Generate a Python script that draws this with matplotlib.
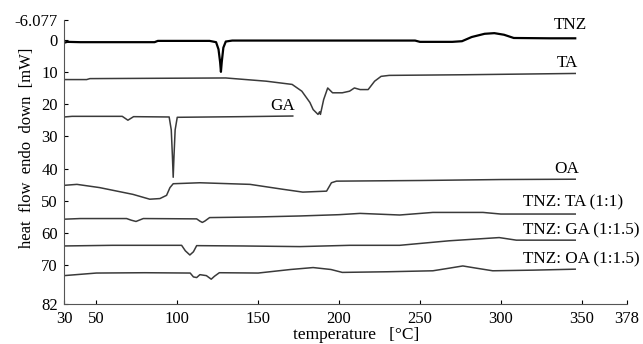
import matplotlib
matplotlib.use("Agg")
import matplotlib.pyplot as plt

# DSC curves, values
tnz_t = [30, 32, 40, 86, 88, 120, 124, 125.5, 126.5, 127, 127.5, 128.5, 130, 134, 180, 247, 250, 270, 276,
         282, 290, 296, 302, 308, 330, 346]
tnz_y = [1.0, 0.7, 0.8, 0.8, 0.4, 0.4, 0.8, 3.0, 7.0, 10.0, 7.0, 2.5, 0.6, 0.3, 0.3, 0.3, 0.7, 0.7, 0.5,
         -0.8, -1.8, -2.0, -1.5, -0.5, -0.4, -0.4]

ta_t = [30, 44, 46, 130, 155, 171, 177, 182, 184, 186, 187, 188, 188.5, 190.5, 193, 196, 202, 206.5,
        209.5, 213, 218, 222, 226, 231, 278, 346]
ta_y = [12.4, 12.4, 12.1, 11.9, 12.9, 13.9, 16.0, 19.5, 21.7, 22.7, 23.2, 22.4, 23.2, 18.6, 15.0, 16.5,
        16.5, 16.0, 15.0, 15.5, 15.5, 12.9, 11.4, 11.1, 10.9, 10.5]

ga_t = [30, 35, 66, 69.5, 73, 95, 96.3, 97, 97.5, 98, 98.7, 100, 140, 171.4]
ga_y = [24.0, 23.8, 23.8, 25.0, 23.9, 24.0, 28.0, 36.0, 42.7, 36.0, 28.0, 24.1, 23.9, 23.7]

oa_t = [30, 38, 52, 72.6, 83, 89.3, 93.4, 95.5, 97.5, 114, 145, 165, 177.6, 192.3, 195.3, 198.4, 250,
        300, 346]
oa_y = [45.2, 44.9, 45.9, 48.0, 49.5, 49.3, 48.3, 45.9, 44.7, 44.4, 44.9, 46.4, 47.3, 47.0, 44.4, 43.9,
        43.7, 43.4, 43.3]

mix_ta_t = [30, 40, 68.7, 71.5, 74.5, 77, 79, 112, 114, 115.5, 117, 120, 150, 175.8, 200, 213, 237.5,
            258, 289, 300, 346]
mix_ta_y = [55.7, 55.5, 55.5, 56.0, 56.4, 55.9, 55.5, 55.6, 56.3, 56.7, 56.3, 55.2, 55.0, 54.7, 54.3,
            53.9, 54.4, 53.6, 53.6, 54.1, 54.1]

mix_ga_t = [30, 60, 102.7, 105, 107.8, 110, 112, 140, 175.8, 206.7, 237.5, 268, 299, 309.6, 346]
mix_ga_y = [64.0, 63.8, 63.8, 65.5, 66.8, 65.8, 63.9, 64.0, 64.2, 63.8, 63.8, 62.4, 61.4, 62.2, 62.2]

mix_oa_t = [30, 40, 50, 80, 108, 110, 112, 114, 118, 121, 123, 126, 150, 170, 184, 195, 202, 230, 258,
            268, 276.5, 285, 295, 320, 346]
mix_oa_y = [73.2, 72.8, 72.4, 72.3, 72.4, 73.6, 73.8, 72.9, 73.2, 74.3, 73.4, 72.3, 72.4, 71.3, 70.7,
            71.3, 72.2, 72.0, 71.7, 70.9, 70.2, 70.9, 71.7, 71.5, 71.2]

labels = ["TNZ", "TA", "GA", "OA", "TNZ: TA (1:1)", "TNZ: GA (1:1.5)", "TNZ: OA (1:1.5)"]
label_x = [332.7, 334.3, 157.7, 333, 314, 314, 314]
label_y = [-4.6, 7.2, 20.6, 40.2, 50.6, 59.3, 68.1]

x_ticks = [30, 50, 100, 150, 200, 250, 300, 350, 378]
y_ticks = [-6.077, 0, 10, 20, 30, 40, 50, 60, 70, 82]
y_tick_labels = ["-6.077", "0", "10", "20", "30", "40", "50", "60", "70", "82"]

plt.rcParams['font.family'] = ['Liberation Serif', 'DejaVu Serif']

fig = plt.figure(figsize=(6.43, 3.44), dpi=100)
ax = fig.add_axes([64 / 643, 1 - 304 / 344, (627 - 64) / 643, (304 - 20) / 344])

ax.plot(tnz_t, tnz_y, color='black', lw=1.6)
for t, y in [(ta_t, ta_y), (ga_t, ga_y), (oa_t, oa_y), (mix_ta_t, mix_ta_y),
             (mix_ga_t, mix_ga_y), (mix_oa_t, mix_oa_y)]:
    ax.plot(t, y, color='#3a3a3a', lw=1.1)

for lab, lx, ly in zip(labels, label_x, label_y):
    ax.text(lx, ly, lab, fontsize=12.3, va='center', ha='left', clip_on=False)

ax.set_xlim(30, 378)
ax.set_ylim(82, -6.077)
ax.set_xticks(x_ticks)
ax.set_yticks(y_ticks)
ax.set_yticklabels(y_tick_labels)
ax.tick_params(direction='in', length=3, width=0.8, labelsize=12)
ax.tick_params(axis='x', pad=5)
ax.tick_params(axis='y', pad=4.5)

for side in ['top', 'right']:
    ax.spines[side].set_visible(False)
for side in ['left', 'bottom']:
    ax.spines[side].set_color('#555555')

ax.set_xlabel("temperature   [°C]", fontsize=12.5)
ax.set_ylabel("heat  flow  endo  down  [mW]", fontsize=12)
ax.xaxis.set_label_coords(0.519, -0.08)
ax.xaxis.label.set_va('top')
ax.yaxis.set_label_coords(-0.052, 0.55)

fig.savefig("out.png", dpi=100)
